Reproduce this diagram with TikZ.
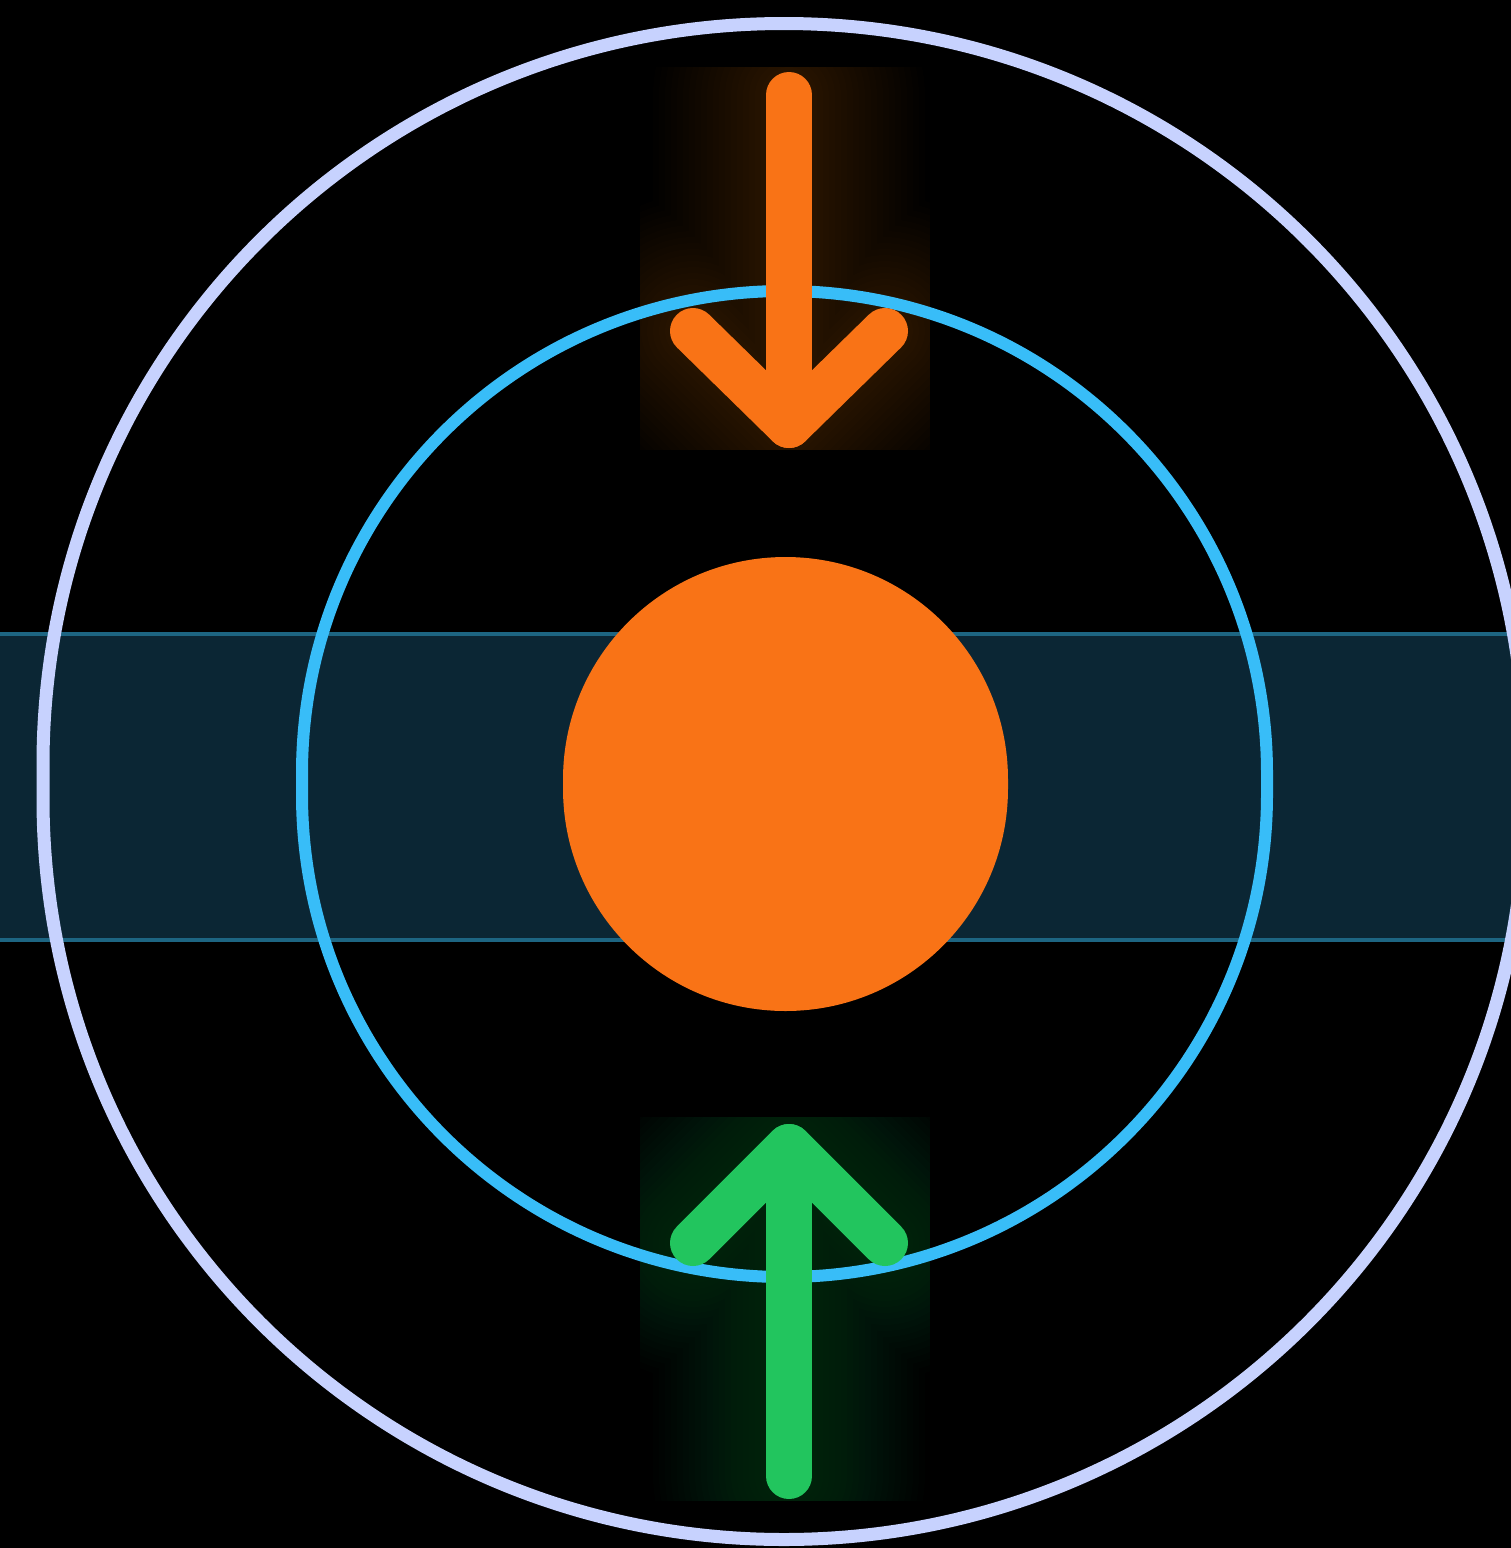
\documentclass[tikz,border=0pt]{standalone}
\begin{document}
\begin{tikzpicture}[x=1pt,y=-1pt,
  ring/.style={line width=13pt},
  arrowline/.style={line width=46pt,line cap=round,line join=round},
  glowline/.style={line cap=round,line join=round,draw opacity=0.013}]
\definecolor{bgc}{RGB}{0,0,0}
\definecolor{outerc}{RGB}{199,210,254}
\definecolor{innerc}{RGB}{56,189,248}
\definecolor{bandfill}{RGB}{11,38,52}
\definecolor{bandline}{RGB}{29,101,130}
\definecolor{orangec}{RGB}{249,115,22}
\definecolor{greenc}{RGB}{34,197,94}
\useasboundingbox (0,0) rectangle (1511,1548);
\fill[bgc] (0,0) rectangle (1511,1548);
% band
\fill[bandfill] (0,634) rectangle (1511,940);
\draw[bandline,line width=4.5pt] (0,634) -- (1511,634);
\draw[bandline,line width=4.5pt] (0,940) -- (1511,940);
% coordinates of arrows
\coordinate (dtop) at (789,95);
\coordinate (dtip) at (789,425);
\coordinate (dl) at (693,331);
\coordinate (dr) at (885,331);
\coordinate (ubot) at (789,1476);
\coordinate (utip) at (789,1147);
\coordinate (ul) at (693,1243);
\coordinate (ur) at (885,1243);
% glows
\begin{scope}
  \clip (640,67) rectangle (930,449);
  \foreach \w in {56,68,...,272}
    \draw[glowline,orangec,line width=\w pt] (dtop) -- (dtip) (dl) -- (dtip) -- (dr);
\end{scope}
\begin{scope}
  \clip (640,1117) rectangle (930,1500);
  \foreach \w in {56,68,...,272}
    \draw[glowline,greenc,line width=\w pt] (ubot) -- (utip) (ul) -- (utip) -- (ur);
\end{scope}
% rings
\draw[ring,outerc,rounded corners=741pt] (43,23.5) rectangle (1525,1539.5);
\draw[line width=12pt,innerc,rounded corners=482.5pt] (302,291) rectangle (1267,1277);
% core
\fill[orangec,rounded corners=222.5pt] (563,557) rectangle (1008,1011);
% arrows
\draw[arrowline,orangec] (dtop) -- (dtip);
\draw[arrowline,orangec] (dl) -- (dtip) -- (dr);
\draw[arrowline,greenc] (ubot) -- (utip);
\draw[arrowline,greenc] (ul) -- (utip) -- (ur);
\end{tikzpicture}
\end{document}
